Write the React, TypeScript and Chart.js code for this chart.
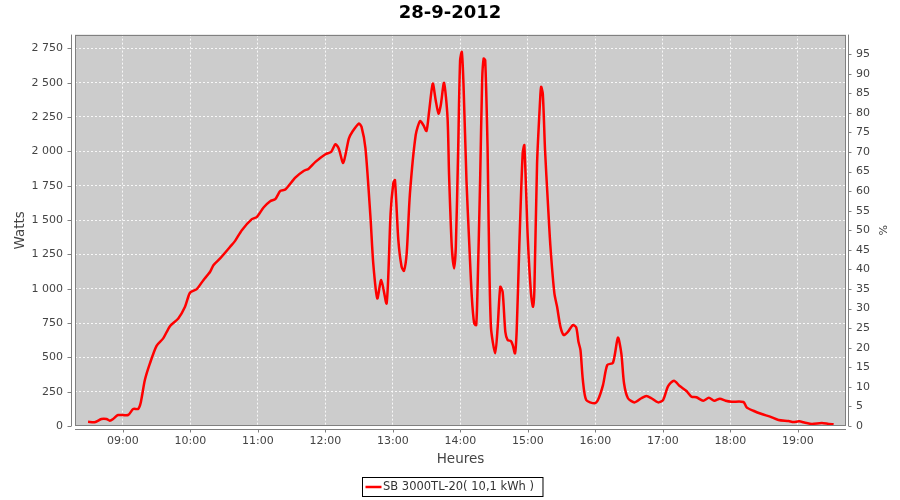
import { useEffect, useRef } from "react";
import { Chart, registerables } from "chart.js";

Chart.register(...registerables);

const chartTitle = "28-9-2012";
const xAxisTitle = "Heures";
const leftAxisTitle = "Watts";
const rightAxisTitle = "%";
const seriesLabel = "SB 3000TL-20( 10,1 kWh )";

// time of day, minutes after midnight
const minutes = [
  509.1, 515.0, 521.0, 525.5, 528.4, 531.4, 535.8, 544.7, 549.2, 553.6,
  555.8, 559.6, 564.1, 570.0, 575.9, 581.9, 589.3, 595.3, 599.7, 605.7,
  611.6, 617.6, 620.5, 626.5, 635.4, 639.8, 645.8, 654.7, 659.2, 665.1,
  671.0, 675.5, 680.0, 684.4, 693.3, 700.7, 705.2, 711.2, 720.1, 725.2,
  729.0, 731.9, 735.9, 740.9, 743.9, 749.8, 752.2, 755.7, 760.2, 762.6,
  766.2, 769.7, 774.5, 778.0, 780.4, 781.9, 784.9, 787.8, 789.9, 792.3,
  795.2, 800.3, 804.2, 807.2, 809.9, 812.2, 815.5, 818.1, 820.6, 822.6,
  825.5, 828.6, 830.0, 832.4, 834.5, 836.0, 838.0, 839.8, 841.3, 842.8,
  845.5, 847.8, 850.2, 852.3, 854.1, 855.3, 857.6, 859.4, 860.7, 862.1,
  864.2, 865.1, 867.2, 871.0, 873.2, 875.5, 877.6, 880.0, 882.1, 885.0,
  886.6, 888.6, 890.1, 892.4, 895.4, 896.9, 899.9, 902.8, 904.6, 905.8,
  908.2, 910.9, 911.8, 913.3, 915.3, 917.7, 920.1, 923.6, 926.0, 929.0,
  932.0, 935.6, 940.0, 943.0, 945.0, 946.8, 948.9, 951.9, 959.3, 962.3,
  966.8, 970.6, 975.7, 980.1, 983.1, 985.5, 989.0, 994.9, 1000.9, 1005.4,
  1009.8, 1015.8, 1020.2, 1024.7, 1029.9, 1035.0, 1041.0, 1045.5, 1049.9, 1055.9,
  1060.9, 1065.7, 1070.7, 1075.8, 1081.1, 1091.6, 1094.5, 1100.5, 1107.9, 1115.3,
  1122.8, 1131.7, 1136.2, 1141.1, 1146.5, 1152.5, 1161.4, 1167.4, 1171.8,
];

// power in watts
const watts = [
  31, 27, 51, 51, 39, 51, 80, 80, 124, 124,
  165, 335, 456, 584, 638, 727, 783, 868, 970, 997,
  1062, 1123, 1171, 1220, 1305, 1348, 1426, 1506, 1523, 1591,
  1637, 1652, 1712, 1722, 1809, 1857, 1874, 1923, 1979, 1996,
  2052, 2020, 1916, 2093, 2141, 2202, 2178, 2020, 1511, 1184,
  929, 1062, 893, 1547, 1766, 1790, 1353, 1159, 1130, 1256,
  1692, 2117, 2221, 2190, 2148, 2287, 2493, 2372, 2275, 2335,
  2498, 2250, 1826, 1305, 1147, 1305, 1984, 2663, 2723, 2493,
  1778, 1353, 941, 747, 735, 1002, 1790, 2517, 2675, 2663,
  2032, 1511, 722, 529, 722, 1013, 977, 686, 626, 618,
  589, 529, 698, 1305, 1984, 2044, 1377, 965, 868, 989,
  1911, 2372, 2469, 2420, 2008, 1644, 1305, 965, 868, 722,
  662, 686, 735, 718, 613, 553, 335, 189, 165, 189,
  298, 444, 461, 643, 529, 311, 202, 172, 202, 218,
  202, 172, 189, 291, 330, 291, 255, 213, 209, 184,
  206, 184, 199, 184, 177, 175, 136, 111, 87, 68,
  44, 36, 29, 34, 24, 15, 22, 15, 12,
];

const xMin = 497.5;
const xMax = 1182.8;
const wattsMax = 2850;
const wattsStep = 250;
const percentMax = 100;
const percentStep = 5;
const hourStep = 60;

const FONT = "'DejaVu Sans', sans-serif";

const fmtThousands = (v: number) =>
  String(Math.round(v)).replace(/\B(?=(\d{3})+(?!\d))/g, " ");
const fmtTime = (m: number) => {
  const h = Math.floor(m / 60);
  const mm = Math.round(m - h * 60);
  return String(h).padStart(2, "0") + ":" + String(mm).padStart(2, "0");
};

const framePlugin = {
  id: "frame",
  beforeDraw(chart: any) {
    const { ctx, chartArea: a } = chart;
    ctx.save();
    ctx.fillStyle = "#cccccc";
    ctx.fillRect(a.left, a.top, a.right - a.left, a.bottom - a.top);
    ctx.restore();
  },
  afterDraw(chart: any) {
    const { ctx, chartArea: a, scales } = chart;
    ctx.save();
    ctx.strokeStyle = "#808080";
    ctx.lineWidth = 1;
    // plot outline
    ctx.strokeRect(Math.round(a.left) + 0.5, Math.round(a.top) + 0.5,
      Math.round(a.right - a.left) - 1, Math.round(a.bottom - a.top) - 1);
    // axis lines, offset from the plot
    const lx = Math.round(a.left) - 4 + 0.5;
    const rx = Math.round(a.right) + 2 + 0.5;
    const by = Math.round(a.bottom) + 3 + 0.5;
    ctx.beginPath();
    ctx.moveTo(lx, a.top); ctx.lineTo(lx, a.bottom);
    ctx.moveTo(rx, a.top); ctx.lineTo(rx, a.bottom);
    ctx.moveTo(a.left, by); ctx.lineTo(a.right, by);
    // tick marks
    scales.y.ticks.forEach((t: any) => {
      const y = Math.round(scales.y.getPixelForValue(t.value)) + 0.5;
      ctx.moveTo(lx - 4, y); ctx.lineTo(lx, y);
    });
    scales.y1.ticks.forEach((t: any) => {
      if (t.value >= percentMax) return;
      const y = Math.round(scales.y1.getPixelForValue(t.value)) + 0.5;
      ctx.moveTo(rx, y); ctx.lineTo(rx + 3, y);
    });
    scales.x.ticks.forEach((t: any) => {
      const x = Math.round(scales.x.getPixelForValue(t.value)) + 0.5;
      ctx.moveTo(x, by); ctx.lineTo(x, by + 3);
    });
    ctx.stroke();

    // legend box
    ctx.font = "11.5px " + FONT;
    const tw = ctx.measureText(seriesLabel).width;
    const bx = 362.5, byTop = 477.5, bh = 19;
    const textX = 383;
    const bw = textX + tw + 9 - bx;
    ctx.fillStyle = "#ffffff";
    ctx.fillRect(bx, byTop, bw, bh);
    ctx.strokeStyle = "#000000";
    ctx.strokeRect(bx, byTop, bw, bh);
    ctx.strokeStyle = "#ff0000";
    ctx.lineWidth = 2.5;
    ctx.beginPath();
    ctx.moveTo(bx + 3, byTop + bh / 2);
    ctx.lineTo(bx + 19, byTop + bh / 2);
    ctx.stroke();
    ctx.fillStyle = "#333333";
    ctx.textBaseline = "middle";
    ctx.textAlign = "left";
    ctx.fillText(seriesLabel, textX, byTop + bh / 2 + 0.5);
    ctx.restore();
  },
};

export default function App() {
  const ref = useRef<HTMLCanvasElement>(null);

  useEffect(() => {
    document.body.style.margin = "0";
    const points = minutes.map((m, i) => ({ x: m, y: watts[i] }));
    const gridColor = "rgba(255,255,255,0.85)";
    const chart = new Chart(ref.current!, {
      type: "line",
      data: {
        datasets: [
          {
            label: seriesLabel,
            data: points,
            borderColor: "#ff0000",
            backgroundColor: "#ff0000",
            borderWidth: 2.5,
            pointRadius: 0,
            tension: 0.25,
            yAxisID: "y",
          },
        ],
      },
      options: {
        responsive: false,
        animation: false,
        devicePixelRatio: 1,
        layout: { padding: { left: 0, right: 0, top: 0, bottom: 30 } },
        plugins: {
          legend: { display: false },
          tooltip: { enabled: false },
          title: {
            display: true,
            text: chartTitle,
            color: "#000000",
            font: { family: FONT, size: 18, weight: "bold" },
            padding: { top: 3, bottom: 10 },
          },
        },
        scales: {
          x: {
            type: "linear",
            min: xMin,
            max: xMax,
            afterFit: (s: any) => { s.height = 44; },
            ticks: {
              stepSize: hourStep,
              includeBounds: false,
              autoSkip: false,
              maxRotation: 0,
              padding: 9,
              color: "#444444",
              font: { family: FONT, size: 11 },
              callback: (v: any) => (Number(v) % hourStep === 0 ? fmtTime(Number(v)) : ""),
            },
            grid: {
              drawTicks: false,
              color: (c: any) => (c.tick && c.tick.value % hourStep === 0 ? gridColor : "transparent"),
              lineWidth: 1,
            },
            border: { display: false, dash: [2, 2] },
            title: {
              display: true,
              text: xAxisTitle,
              color: "#444444",
              font: { family: FONT, size: 13.5 },
              padding: { top: 0, bottom: 2 },
            },
          },
          y: {
            type: "linear",
            position: "left",
            min: 0,
            max: wattsMax,
            afterFit: (s: any) => { s.width = 75; },
            ticks: {
              stepSize: wattsStep,
              includeBounds: false,
              padding: 12,
              color: "#444444",
              font: { family: FONT, size: 11 },
              callback: (v: any) => (Number(v) % wattsStep === 0 ? fmtThousands(Number(v)) : ""),
            },
            grid: {
              drawTicks: false,
              color: (c: any) => (c.tick && c.tick.value % wattsStep === 0 && c.tick.value > 0 ? gridColor : "transparent"),
              lineWidth: 1,
            },
            border: { display: false, dash: [2, 2] },
            title: {
              display: true,
              text: leftAxisTitle,
              color: "#444444",
              font: { family: FONT, size: 13.5 },
              padding: { top: 12, bottom: 0 },
            },
          },
          y1: {
            type: "linear",
            position: "right",
            min: 0,
            max: percentMax,
            afterFit: (s: any) => { s.width = 54; },
            ticks: {
              stepSize: percentStep,
              includeBounds: false,
              padding: 10,
              color: "#444444",
              font: { family: FONT, size: 11 },
              callback: (v: any) => (Number(v) >= percentMax ? "" : String(v)),
            },
            grid: { display: false, drawTicks: false },
            border: { display: false },
            title: {
              display: true,
              text: rightAxisTitle,
              color: "#444444",
              font: { family: FONT, size: 11 },
              padding: { top: 12, bottom: 0 },
            },
          },
        },
      },
      plugins: [framePlugin],
    } as any);
    return () => chart.destroy();
  }, []);

  return (
    <div style={{ position: "absolute", left: 0, top: 0, width: 900, height: 500, background: "#ffffff" }}>
      <canvas ref={ref} width={900} height={500} style={{ width: 900, height: 500 }} />
    </div>
  );
}
